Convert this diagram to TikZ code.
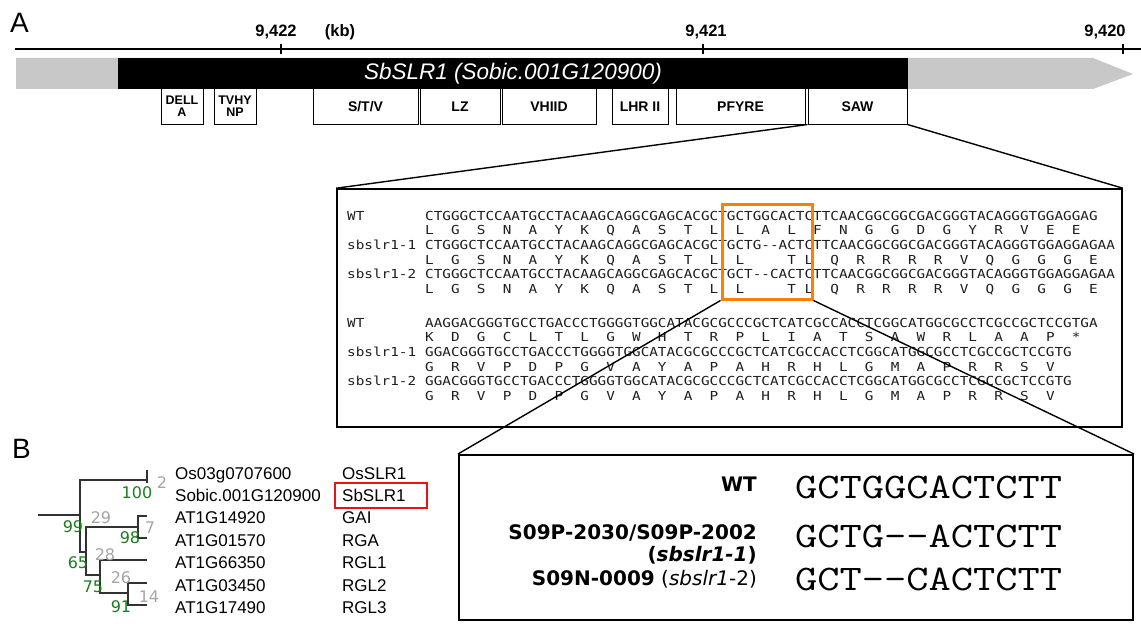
\documentclass[tikz,border=0pt]{standalone}
\usepackage{fontspec}
\setmainfont{Liberation Sans}
\newfontfamily\seqfont{DejaVu Sans Mono}[FakeStretch=1.155]
\newfontfamily\dvsans{DejaVu Sans}
\usepackage{graphicx}
\usepackage{tikz}
\usetikzlibrary{positioning}
\definecolor{utrgray}{RGB}{200,200,200}
\definecolor{indelorange}{RGB}{255,128,0}
\definecolor{hitred}{RGB}{235,20,20}
\definecolor{bootgreen}{RGB}{30,125,30}
\definecolor{bootgray}{RGB}{165,165,165}
\definecolor{treedark}{RGB}{50,50,50}
\definecolor{seqdark}{RGB}{30,30,30}

% one character per box, '+' gives a blank of the same width
\newcommand\seqrow[1]{\edef\seqtmp{#1}\expandafter\seqloop\seqtmp\relax}
\def\seqloop#1{\ifx\relax#1\else\seqchar#1\expandafter\seqloop\fi}
\def\seqchar#1{\ifx+#1\phantom{X}\else\hbox{#1}\fi}

\tikzset{
  panel/.style={anchor=base west, inner sep=0, font=\fontsize{28}{28}\selectfont},
  scalelab/.style={anchor=base, inner sep=0, font=\bfseries\fontsize{16.5}{16.5}\selectfont},
  dombox/.style={rectangle, draw, line width=1pt, minimum height=35, inner sep=0,
    font=\bfseries\fontsize{14}{14}\selectfont},
  smalldom/.style={dombox, minimum width=42, align=center,
    font=\bfseries\fontsize{12.5}{12}\selectfont},
  seqtext/.style={anchor=base west, inner sep=0, text=seqdark,
    font=\seqfont\fontsize{12.4}{12.4}\selectfont},
  boxframe/.style={rectangle, draw, line width=1.6pt, inner sep=0},
  zoomline/.style={line width=1.4pt},
  treeline/.style={line width=2pt, color=treedark},
  boot/.style={inner sep=0, font=\dvsans\fontsize{16}{16}\selectfont},
  leaf/.style={anchor=base west, inner sep=0, font=\fontsize{17}{17}\selectfont},
  mutlab/.style={anchor=base east, inner sep=0, font=\dvsans\bfseries\fontsize{20}{20}\selectfont},
  bigseq/.style={anchor=base west, inner sep=0, font=\ttfamily\fontsize{36}{36}\selectfont}
}

\begin{document}
\begin{tikzpicture}[x=1pt, y=-1pt]
  \useasboundingbox (0,0) rectangle (1141,626);

  % Panel A: scale
  \node[panel] (labA) at (10,33) {A};
  \draw[line width=1.5pt] (15,49) -- (1141,49);
  \foreach \tx/\lx/\lab in {281/276/{9,422}, 703/706/{9,421}, 1123/1105/{9,420}} {
    \draw[line width=1.2pt] (\tx,44) -- (\tx,54);
    \node[scalelab] (tick\tx) at (\lx,37) {\lab};
  }
  \node[scalelab] (kb) at (340,37) {(kb)};

  % Gene model
  \fill[utrgray] (16,58) -- (1093,58) -- (1133,74) -- (1093,89) -- (16,89) -- cycle;
  \node[fill=black, text=white, minimum width=790, minimum height=31, inner sep=0,
    font=\itshape\fontsize{22.5}{22.5}\selectfont] (cds) at (513,73.5) {SbSLR1 (Sobic.001G120900)};

  % Domains
  \node[smalldom] (della) at (182,106.5) {DELL\\A};
  \node[smalldom] (tvhynp) at (235,106.5) {TVHY\\NP};
  \node[dombox, minimum width=105] (stv) at (365.5,106.5) {S/T/V};
  \node[dombox, minimum width=80] (lz) at (460,106.5) {LZ};
  \node[dombox, minimum width=94] (vhiid) at (549,106.5) {VHIID};
  \node[dombox, minimum width=56] (lhr) at (640,106.5) {LHR II};
  \node[dombox, minimum width=129] (pfyre) at (740.5,106.5) {PFYRE};
  \node[dombox, minimum width=99] (saw) at (857.5,106.5) {SAW};

  % Alignment of the SAW region
  \node[boxframe, minimum width=785, minimum height=238] (seqbox) at (729.5,308) {};
  \draw[zoomline] (saw.south west) -- (seqbox.north west);
  \draw[zoomline] (saw.south east) -- (seqbox.north east);

  \foreach \y/\lab/\s [count=\r] in {
    220/WT/CTGGGCTCCAATGCCTACAAGCAGGCGAGCACGCTGCTGGCACTCTTCAACGGCGGCGACGGGTACAGGGTGGAGGAG,
    234.7/{}/L++G++S++N++A++Y++K++Q++A++S++T++L++L++A++L++F++N++G++G++D++G++Y++R++V++E++E,
    249.4/sbslr1-1/CTGGGCTCCAATGCCTACAAGCAGGCGAGCACGCTGCTG--ACTCTTCAACGGCGGCGACGGGTACAGGGTGGAGGAGAA,
    264.1/{}/L++G++S++N++A++Y++K++Q++A++S++T++L++L+++++T+L++Q++R++R++R++R++V++Q++G++G++G++E,
    278.8/sbslr1-2/CTGGGCTCCAATGCCTACAAGCAGGCGAGCACGCTGCT--CACTCTTCAACGGCGGCGACGGGTACAGGGTGGAGGAGAA,
    293.5/{}/L++G++S++N++A++Y++K++Q++A++S++T++L++L+++++T+L++Q++R++R++R++R++V++Q++G++G++G++E} {
    \node[seqtext] (labA\r) at (347,\y) {\lab};
    \node[seqtext] (rowA\r) at (425,\y) {\seqrow{\s}};
  }
  \foreach \y/\lab/\s [count=\r] in {
    327/WT/AAGGACGGGTGCCTGACCCTGGGGTGGCATACGCGCCCGCTCATCGCCACCTCGGCATGGCGCCTCGCCGCTCCGTGA,
    341.7/{}/K++D++G++C++L++T++L++G++W++H++T++R++P++L++I++A++T++S++A++W++R++L++A++A++P++*,
    356.4/sbslr1-1/GGACGGGTGCCTGACCCTGGGGTGGCATACGCGCCCGCTCATCGCCACCTCGGCATGGCGCCTCGCCGCTCCGTG,
    371.1/{}/G++R++V++P++D++P++G++V++A++Y++A++P++A++H++R++H++L++G++M++A++P++R++R++S++V,
    385.8/sbslr1-2/GGACGGGTGCCTGACCCTGGGGTGGCATACGCGCCCGCTCATCGCCACCTCGGCATGGCGCCTCGCCGCTCCGTG,
    400.5/{}/G++R++V++P++D++P++G++V++A++Y++A++P++A++H++R++H++L++G++M++A++P++R++R++S++V} {
    \node[seqtext] (labB\r) at (347,\y) {\lab};
    \node[seqtext] (rowB\r) at (425,\y) {\seqrow{\s}};
  }
  \node[draw=indelorange, line width=3pt, minimum width=90, minimum height=95, inner sep=0] (indel) at (767,251.5) {};

  % Close-up of the indels
  \node[boxframe, line width=2pt, minimum width=674, minimum height=165] (zoombox) at (796,537.5) {};
  \draw[zoomline] (indel.south west) -- (zoombox.north west);
  \draw[zoomline] (indel.south east) -- (zoombox.north east);
  \node[mutlab] (mwt) at (757,491) {WT};
  \node[bigseq] (swt) at (795,498) {\scalebox{1.2}[1]{\seqrow{GCTGGCACTCTT}}};
  \node[mutlab] (mone) at (757,539) {S09P-2030/S09P-2002};
  \node[mutlab] (monetag) at (757,561) {(\textit{sbslr1-1})};
  \node[bigseq] (sone) at (795,547) {\scalebox{1.2}[1]{\seqrow{GCTG--ACTCTT}}};
  \node[mutlab, font=\dvsans\fontsize{20}{20}\selectfont] (mtwo) at (757,585) {\textbf{S09N-0009} (\textit{sbslr1}-2)};
  \node[bigseq] (stwo) at (795,590) {\scalebox{1.2}[1]{\seqrow{GCT--CACTCTT}}};

  % Panel B: tree
  \node[panel] (labB) at (12,458) {B};
  \coordinate (root) at (38,515);
  \coordinate (n99) at (80,515);
  \coordinate (n100) at (147,480);
  \coordinate (n65) at (86,552);
  \coordinate (n98) at (138,527);
  \coordinate (n75) at (100,575);
  \coordinate (n91) at (128,593);
  \coordinate (tos) at (147,470);
  \coordinate (tsb) at (147,483);
  \coordinate (tgai) at (147,516);
  \coordinate (trga) at (147,538);
  \coordinate (trgl1) at (147,560);
  \coordinate (trgl2) at (147,583);
  \coordinate (trgl3) at (147,605);
  \draw[treeline] (root) -- (n99);
  \draw[treeline] (n100) -| (n99) |- (n65);
  \draw[treeline] (tos) -- (tsb);
  \draw[treeline] (n98) -| (n65) |- (n75);
  \draw[treeline] (tgai) -| (n98) |- (trga);
  \draw[treeline] (trgl1) -| (n75) |- (n91);
  \draw[treeline] (trgl2) -| (n91) |- (trgl3);

  \foreach \x/\y/\v/\c in {137/493/100/bootgreen, 162/483/2/bootgray, 101/518/29/bootgray,
    73/527/99/bootgreen, 150/528/7/bootgray, 130/538/98/bootgreen, 105/555/28/bootgray,
    78/563/65/bootgreen, 121/578/26/bootgray, 93/587/75/bootgreen, 149/597/14/bootgray,
    121/607/91/bootgreen} {
    \node[boot, text=\c] (bs\v) at (\x,\y) {\v};
  }

  \foreach \y/\gid/\prot [count=\k] in {479/Os03g0707600/OsSLR1, 501/Sobic.001G120900/SbSLR1,
    523/AT1G14920/GAI, 546/AT1G01570/RGA, 568/AT1G66350/RGL1, 591/AT1G03450/RGL2,
    613/AT1G17490/RGL3} {
    \node[leaf] (gene\k) at (175,\y) {\gid};
    \node[leaf] (prot\k) at (342,\y) {\prot};
  }
  \node[draw=hitred, line width=2.5pt, minimum width=92, minimum height=25, inner sep=0] (hit) at (381,495.5) {};
\end{tikzpicture}
\end{document}
